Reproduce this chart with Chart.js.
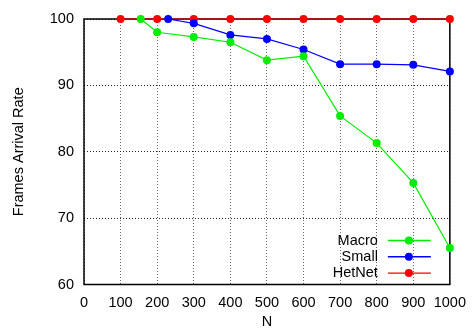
<!DOCTYPE html>
<html>
<head>
<meta charset="utf-8">
<script src="https://cdn.jsdelivr.net/npm/chart.js@4"></script>
<style>
  html, body { margin: 0; padding: 0; background: #fff; }
  #wrap { width: 476px; height: 329px; }
</style>
</head>
<body>
<div id="wrap"><canvas id="arrivalChart"></canvas></div>
<script>
var seriesNames = ["Macro", "Small", "HetNet"];
var seriesColors = ["#00ee00", "#0000ff", "#ff0000"];

var macroN = [155, 200, 300, 400, 500, 600, 700, 800, 900, 1000];
var macroRate = [100, 98.0, 97.3, 96.5, 93.8, 94.4, 85.4, 81.3, 75.3, 65.5];

var smallN = [230, 300, 400, 500, 600, 700, 800, 900, 1000];
var smallRate = [100, 99.35, 97.6, 97.0, 95.4, 93.2, 93.2, 93.1, 92.1];

var hetnetN = [100, 200, 300, 400, 500, 600, 700, 800, 900, 1000];
var hetnetRate = [100, 100, 100, 100, 100, 100, 100, 100, 100, 100];

var xTicks = [0, 100, 200, 300, 400, 500, 600, 700, 800, 900, 1000];
var yTicks = [60, 70, 80, 90, 100];

function toPoints(xs, ys) {
    return xs.map(function (x, i) { return { x: x, y: ys[i] }; });
}

var fontFamily = "'Liberation Sans', Arial, sans-serif";

function makeDataset(i, xs, ys) {
    return {
        label: seriesNames[i],
        data: toPoints(xs, ys),
        borderColor: seriesColors[i],
        backgroundColor: seriesColors[i],
        pointBackgroundColor: seriesColors[i],
        pointBorderColor: seriesColors[i],
        borderWidth: 1.2,
        pointRadius: 4,
        pointBorderWidth: 0,
        tension: 0,
        clip: false
    };
}

// gnuplot-like legend: right aligned label, then line sample with a dot
var keyPlugin = {
    id: "gnuKey",
    afterDatasetsDraw: function (chart) {
        var c = chart.ctx, area = chart.chartArea;
        c.save();
        c.font = "14.5px " + fontFamily;
        c.textAlign = "right";
        c.textBaseline = "middle";
        chart.data.datasets.forEach(function (ds, i) {
            var y = area.bottom - 44 + i * 16.3;
            var textRight = area.right - 72;
            c.fillStyle = "#000";
            c.fillText(ds.label, textRight, y);
            c.strokeStyle = ds.borderColor;
            c.lineWidth = 1.4;
            c.beginPath();
            c.moveTo(area.right - 62, y);
            c.lineTo(area.right - 19, y);
            c.stroke();
            c.fillStyle = ds.borderColor;
            c.beginPath();
            c.arc(area.right - 41, y, 4, 0, Math.PI * 2);
            c.fill();
        });
        c.restore();
    }
};

var frameBorder = {
    id: "frameBorder",
    beforeDatasetsDraw: function (chart) {
        var c = chart.ctx, a = chart.chartArea;
        c.save();
        c.strokeStyle = "#000";
        c.lineWidth = 1.5;
        c.strokeRect(a.left, a.top, a.right - a.left, a.bottom - a.top);
        c.restore();
    }
};

var ctx = document.getElementById("arrivalChart");

new Chart(ctx, {
    type: "line",
    data: {
        datasets: [
            makeDataset(0, macroN, macroRate),
            makeDataset(1, smallN, smallRate),
            makeDataset(2, hetnetN, hetnetRate)
        ]
    },
    options: {
        responsive: true,
        maintainAspectRatio: false,
        animation: false,
        layout: { padding: { top: 19, right: 19, left: 0, bottom: 0 } },
        plugins: {
            legend: { display: false },
            tooltip: { enabled: false }
        },
        scales: {
            x: {
                type: "linear",
                min: 0,
                max: 1000,
                afterBuildTicks: function (axis) {
                    axis.ticks = xTicks.map(function (v) { return { value: v }; });
                },
                border: { display: false, dash: [1, 2] },
                grid: {
                    color: "#666",
                    lineWidth: 1,
                    drawTicks: false
                },
                ticks: {
                    color: "#000",
                    padding: 10,
                    maxRotation: 0,
                    autoSkip: false,
                    font: { family: fontFamily, size: 14.5 },
                    callback: function (v) { return String(v); }
                },
                title: {
                    display: true,
                    text: "N",
                    color: "#000",
                    padding: { top: 6, bottom: 0 },
                    font: { family: fontFamily, size: 14.5, lineHeight: 1 }
                },
                afterFit: function (axis) { axis.height = 44.5; }
            },
            y: {
                type: "linear",
                min: 60,
                max: 100,
                afterBuildTicks: function (axis) {
                    axis.ticks = yTicks.map(function (v) { return { value: v }; });
                },
                border: { display: false, dash: [1, 2] },
                grid: {
                    color: "#222",
                    lineWidth: 1,
                    drawTicks: false
                },
                ticks: {
                    color: "#000",
                    padding: 10,
                    font: { family: fontFamily, size: 14.5 }
                },
                title: {
                    display: true,
                    text: "Frames Arrival Rate",
                    color: "#000",
                    padding: { top: 10, bottom: 0 },
                    font: { family: fontFamily, size: 14.5 }
                },
                afterFit: function (axis) { axis.width = 84; }
            }
        }
    },
    plugins: [frameBorder, keyPlugin]
});
</script>
</body>
</html>
